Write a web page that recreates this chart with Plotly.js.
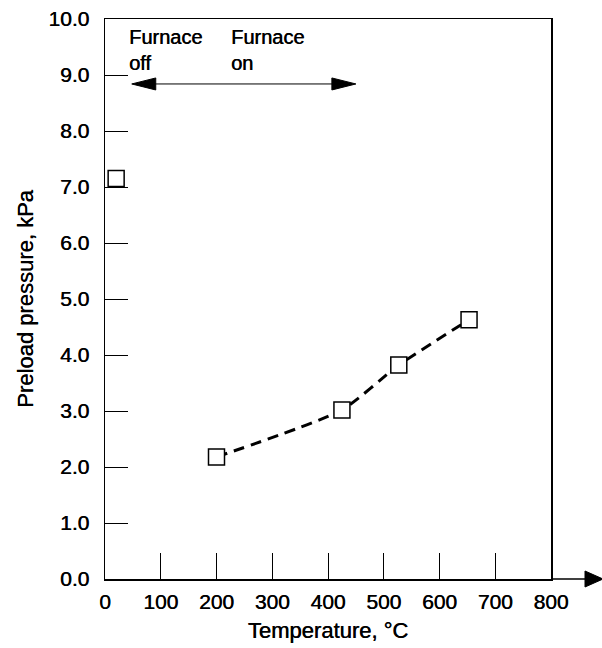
<!DOCTYPE html>
<html>
<head>
<meta charset="utf-8">
<script src="https://cdn.plot.ly/plotly-3.0.1.min.js"></script>
<style>
html,body{margin:0;padding:0;background:#fff;}
#chart{width:602px;height:648px;}
</style>
</head>
<body>
<div id="chart"></div>
<script>
// Data
const temperatures = [20, 200, 425, 527, 653];          // °C
const pressures    = [7.15, 2.18, 3.02, 3.82, 4.63];    // kPa
const onTemps      = temperatures.slice(1);             // furnace-on points (dashed trend)
const onPressures  = pressures.slice(1);
const xTickVals    = [0, 100, 200, 300, 400, 500, 600, 700, 800];
const xTickText    = ["0", "100", "200", "300", "400", "500", "600", "700", "800"];
const yTickVals    = [0, 1, 2, 3, 4, 5, 6, 7, 8, 9, 10];
const yTickText    = ["0.0", "1.0", "2.0", "3.0", "4.0", "5.0", "6.0", "7.0", "8.0", "9.0", "10.0"];
const annotTexts   = ["Furnace<br>off", "Furnace<br>on"];
const annotX       = [40, 223];
const arrowSpan    = [48, 450];   // furnace on/off double arrow extent (°C)
const arrowLevel   = 8.84;

const FONT = "Liberation Sans, Arial, Helvetica, sans-serif";
const SHADOW = "0.45px 0 0 #000";

const traces = [
  {
    x: onTemps, y: onPressures, type: "scatter", mode: "lines",
    line: {color: "#000", width: 3, dash: "11px,7px", shape: "spline", smoothing: 0.6},
    hoverinfo: "skip", showlegend: false
  },
  {
    x: temperatures, y: pressures, type: "scatter", mode: "markers",
    marker: {symbol: "square", size: 16, color: "#fff", line: {color: "#000", width: 1.5}},
    showlegend: false, cliponaxis: false
  }
];

const layout = {
  width: 602, height: 648,
  margin: {l: 105, r: 51, t: 19, b: 69},
  paper_bgcolor: "#fff", plot_bgcolor: "#fff",
  font: {family: FONT, color: "#000", size: 21},
  showlegend: false,
  xaxis: {
    range: [0, 800], tickvals: xTickVals, ticktext: xTickText,
    ticks: "inside", ticklen: 26, tickwidth: 1, tickcolor: "#000",
    showline: true, linecolor: "#000", linewidth: 1.5, mirror: true,
    showgrid: false, zeroline: false, ticklabelstandoff: 3,
    tickfont: {family: FONT, size: 21, color: "#000", shadow: SHADOW},
    title: {text: "Temperature, °C", font: {family: FONT, size: 22, color: "#000", shadow: SHADOW}, standoff: 11}
  },
  yaxis: {
    range: [0, 10], tickvals: yTickVals, ticktext: yTickText,
    ticks: "inside", ticklen: 23, tickwidth: 1, tickcolor: "#000",
    showline: true, linecolor: "#000", linewidth: 1.5, mirror: true,
    showgrid: false, zeroline: false, ticklabelstandoff: 10,
    tickfont: {family: FONT, size: 21, color: "#000", shadow: SHADOW},
    title: {text: "Preload pressure, kPa", font: {family: FONT, size: 22, color: "#000", shadow: SHADOW}, standoff: 8}
  },
  annotations: annotTexts.map((t, i) => ({
    text: t, x: annotX[i], y: 9.91, xref: "x", yref: "y",
    xanchor: "left", yanchor: "top", align: "left", showarrow: false,
    font: {family: FONT, size: 20, color: "#000", shadow: SHADOW}
  })),
  shapes: [
    // double-headed arrow (furnace off / on)
    {type: "line", xref: "x", yref: "y", x0: arrowSpan[0] + 20, x1: arrowSpan[1] - 20, y0: arrowLevel, y1: arrowLevel,
     line: {color: "#000", width: 1}},
    {type: "path", xref: "x", yref: "y", xsizemode: "pixel", ysizemode: "pixel",
     xanchor: arrowSpan[0], yanchor: arrowLevel, path: "M0,0 L24,6 L24,-6 Z",
     fillcolor: "#000", line: {color: "#000", width: 1}},
    {type: "path", xref: "x", yref: "y", xsizemode: "pixel", ysizemode: "pixel",
     xanchor: arrowSpan[1], yanchor: arrowLevel, path: "M0,0 L-24,6 L-24,-6 Z",
     fillcolor: "#000", line: {color: "#000", width: 1}},
    // x-axis extension with arrow
    {type: "line", xref: "paper", yref: "paper", xsizemode: "pixel", xanchor: 1,
     x0: 0, x1: 36, y0: 0, y1: 0, line: {color: "#000", width: 1.5}},
    {type: "path", xref: "paper", yref: "paper", xsizemode: "pixel", ysizemode: "pixel",
     xanchor: 1, yanchor: 0, path: "M52,0 L34,8 L34,-8 Z",
     fillcolor: "#000", line: {color: "#000", width: 1}}
  ]
};

Plotly.newPlot("chart", traces, layout, {displayModeBar: false, staticPlot: true});
</script>
</body>
</html>
